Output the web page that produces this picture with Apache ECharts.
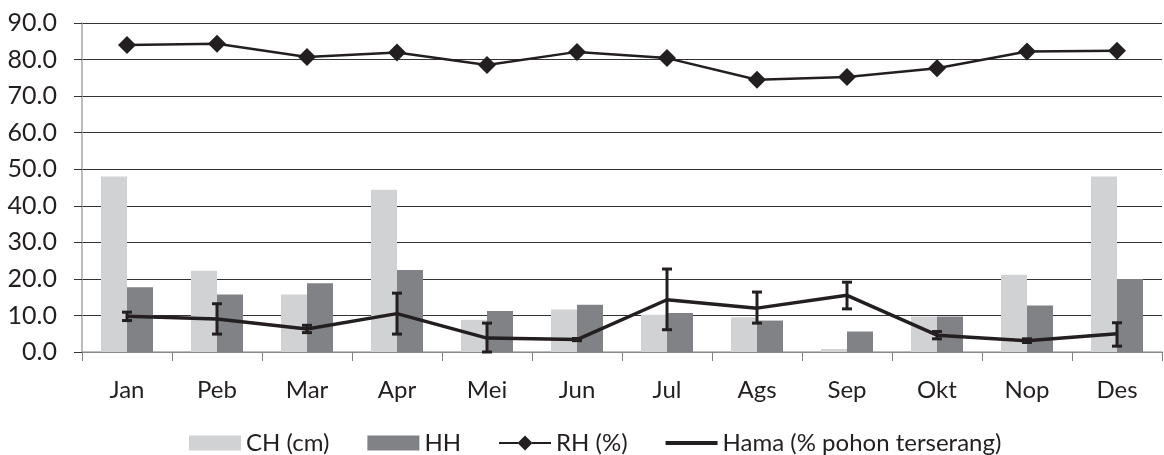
<!DOCTYPE html>
<html>
<head>
<meta charset="utf-8">
<script src="https://cdn.jsdelivr.net/npm/echarts@6/dist/echarts.min.js"></script>
<style>
  html, body { margin: 0; padding: 0; background: #fff; }
  #chart { width: 1164px; height: 455px; }
</style>
</head>
<body>
<div id="chart"></div>
<script>
var months = ['Jan', 'Peb', 'Mar', 'Apr', 'Mei', 'Jun', 'Jul', 'Ags', 'Sep', 'Okt', 'Nop', 'Des'];
var chValues = [48.0, 22.2, 15.7, 44.4, 8.8, 11.6, 10.2, 9.5, 0.8, 9.7, 21.1, 48.0];
var hhValues = [17.7, 15.7, 18.8, 22.4, 11.2, 12.9, 10.7, 8.6, 5.6, 9.7, 12.7, 20.0];
var rhValues = [84.0, 84.3, 80.7, 81.9, 78.5, 82.1, 80.4, 74.5, 75.2, 77.6, 82.2, 82.4];
var hamaValues = [9.8, 9.0, 6.3, 10.5, 3.8, 3.4, 14.3, 12.0, 15.5, 4.6, 3.1, 5.0];
var hamaLow = [8.6, 4.9, 5.3, 4.9, 0.0, 3.1, 6.1, 7.9, 11.8, 3.6, 2.6, 1.6];
var hamaHigh = [10.9, 13.2, 7.3, 16.1, 7.9, 3.7, 22.7, 16.4, 19.1, 5.6, 3.6, 8.0];

var chart = echarts.init(document.getElementById('chart'));
var font = 'Lato, "Open Sans", sans-serif';
var ink = '#231f20';

var errData = [];
for (var i = 0; i < months.length; i++) {
    errData.push([i, hamaLow[i], hamaHigh[i]]);
}

function renderErrorBar(params, api) {
    var lo = api.coord([api.value(0), api.value(1)]);
    var hi = api.coord([api.value(0), api.value(2)]);
    var half = 5;
    var style = { stroke: ink, lineWidth: 3 };
    return {
        type: 'group',
        children: [
            { type: 'line', shape: { x1: hi[0], y1: hi[1], x2: lo[0], y2: lo[1] }, style: style },
            { type: 'line', shape: { x1: hi[0] - half, y1: hi[1], x2: hi[0] + half, y2: hi[1] }, style: style },
            { type: 'line', shape: { x1: lo[0] - half, y1: lo[1], x2: lo[0] + half, y2: lo[1] }, style: style }
        ]
    };
}

var option = {
    animation: false,
    textStyle: { fontFamily: font },
    grid: { left: 82, right: 2, top: 23, bottom: 103 },
    legend: {
        data: [
            { name: 'CH (cm)', icon: 'rect' },
            { name: 'HH', icon: 'rect' },
            { name: 'RH (%)', icon: 'path://M0,6.5 L19,6.5 L19,8.5 L0,8.5 Z M33,6.5 L52,6.5 L52,8.5 L33,8.5 Z M26,0 L33.5,7.5 L26,15 L18.5,7.5 Z' },
            { name: 'Hama (% pohon terserang)', icon: 'path://M0,0 L52,0 L52,4 L0,4 Z' }
        ],
        left: 189,
        top: 431,
        padding: 0,
        itemWidth: 52,
        itemHeight: 15,
        itemGap: 38,
        textStyle: { fontSize: 24, lineHeight: 24, color: ink, fontFamily: font }
    },
    xAxis: {
        type: 'category',
        data: months,
        axisLine: { lineStyle: { color: '#a6a6a6', width: 1.5 } },
        axisTick: { show: true, length: 9, lineStyle: { color: '#808080' } },
        axisLabel: { fontSize: 24, color: ink, margin: 26 }
    },
    yAxis: {
        type: 'value',
        min: 0,
        max: 90,
        interval: 10,
        axisLine: { show: true, lineStyle: { color: '#a6a6a6', width: 1.5 } },
        axisTick: { show: true, length: 8, lineStyle: { color: '#333' } },
        axisLabel: {
            fontSize: 25,
            color: ink,
            margin: 25,
            formatter: function (v) { return v.toFixed(1); }
        },
        splitLine: { lineStyle: { color: '#333', width: 1 } }
    },
    series: [
        {
            name: 'CH (cm)',
            type: 'bar',
            data: chValues,
            barWidth: 26,
            barGap: '0%',
            itemStyle: { color: '#d1d2d4' }
        },
        {
            name: 'HH',
            type: 'bar',
            data: hhValues,
            barWidth: 26,
            barGap: '0%',
            itemStyle: { color: '#808285' }
        },
        {
            name: 'RH (%)',
            type: 'line',
            data: rhValues,
            symbol: 'diamond',
            symbolSize: 18,
            itemStyle: { color: ink },
            lineStyle: { color: ink, width: 2.5 }
        },
        {
            name: 'Hama (% pohon terserang)',
            type: 'line',
            data: hamaValues,
            symbol: 'none',
            itemStyle: { color: ink },
            lineStyle: { color: ink, width: 3.5 }
        },
        {
            name: 'err',
            type: 'custom',
            data: errData,
            renderItem: renderErrorBar,
            encode: { x: 0, y: [1, 2] },
            z: 5
        }
    ]
};

chart.setOption(option);
</script>
</body>
</html>
